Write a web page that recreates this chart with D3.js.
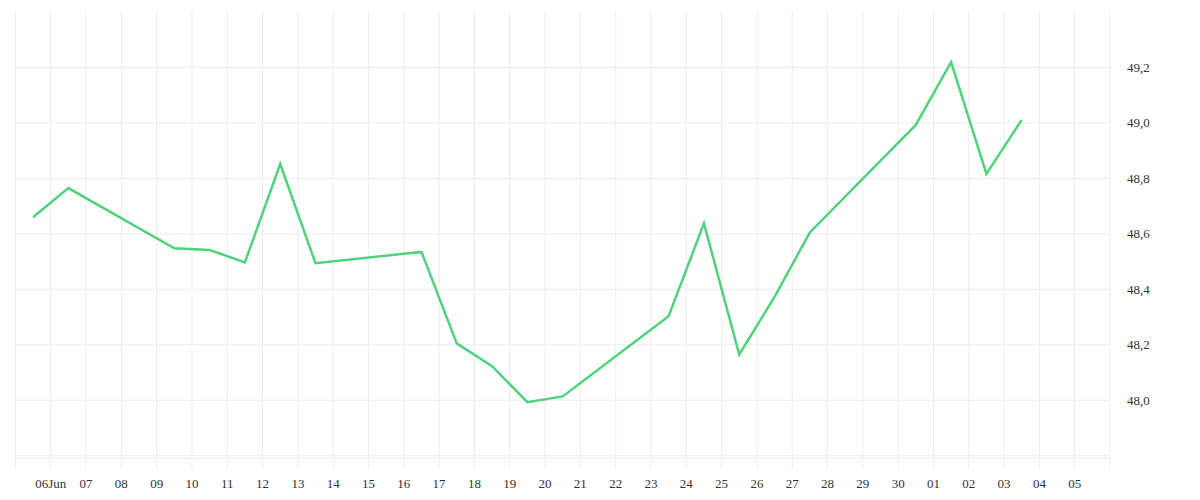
<!DOCTYPE html>
<html>
<head>
<meta charset="utf-8">
<script src="https://cdn.jsdelivr.net/npm/d3@7"></script>
<style>
  body { margin: 0; background: #fff; }
</style>
</head>
<body>
<div id="chart"></div>
<script>
// daily values (weekends missing)
const dates = ["2025-06-05", "2025-06-06", "2025-06-09", "2025-06-10", "2025-06-11", "2025-06-12",
  "2025-06-13", "2025-06-16", "2025-06-17", "2025-06-18", "2025-06-19", "2025-06-20",
  "2025-06-23", "2025-06-24", "2025-06-25", "2025-06-26", "2025-06-27", "2025-06-30",
  "2025-07-01", "2025-07-02", "2025-07-03"];
const values = [48.66, 48.765, 48.548, 48.542, 48.497, 48.852,
  48.494, 48.535, 48.205, 48.123, 47.993, 48.014,
  48.303, 48.638, 48.165, 48.373, 48.605, 48.993,
  49.219, 48.816, 49.011];

const xTickLabels = ["06Jun", "07", "08", "09", "10", "11", "12", "13", "14", "15", "16", "17", "18",
  "19", "20", "21", "22", "23", "24", "25", "26", "27", "28", "29", "30", "01", "02", "03", "04", "05"];
const yGridValues = [47.8, 48.0, 48.2, 48.4, 48.6, 48.8, 49.0, 49.2];
const yLabelValues = [48.0, 48.2, 48.4, 48.6, 48.8, 49.0, 49.2];

const width = 1200, height = 500;
const margins = {top: 12, right: 90, bottom: 41.5, left: 15.4};
const lineColor = "#4fd27b";
const gridColor = "#ececec";
const font = "Liberation Serif, serif";

const parse = d3.utcParse("%Y-%m-%d");
const data = dates.map((d, i) => ({date: parse(d), value: values[i]}));

const svg = d3.select("#chart")
  .append("svg")
    .attr("width", width)
    .attr("height", height);

/* scales */
const xScale = d3.scaleUtc()
  .domain([parse("2025-06-05"), parse("2025-07-06")])
  .range([margins.left, width - margins.right]);

const yScale = d3.scaleLinear()
  .domain([47.79, 49.40])
  .range([height - margins.bottom, margins.top]);

const comma = d3.formatLocale({decimal: ",", thousands: ".", grouping: [3], currency: ["", "€"]}).format(".1f");

/* vertical grid, one line per day, running a bit under the axis */
const dayLines = d3.utcDay.range(parse("2025-06-05"), d3.utcDay.offset(parse("2025-07-06"), 1));
svg.append("g")
  .selectAll("line")
  .data(dayLines)
  .join("line")
    .attr("x1", d => xScale(d))
    .attr("x2", d => xScale(d))
    .attr("y1", margins.top)
    .attr("y2", height - margins.bottom + 9.5)
    .style("stroke", gridColor)
    .style("stroke-width", 1);

/* horizontal grid */
svg.append("g")
  .selectAll("line")
  .data(yGridValues)
  .join("line")
    .attr("x1", margins.left)
    .attr("x2", width - margins.right)
    .attr("y1", d => yScale(d))
    .attr("y2", d => yScale(d))
    .style("stroke", gridColor)
    .style("stroke-width", 1);

// bottom base line
svg.append("line")
  .attr("x1", margins.left)
  .attr("x2", width - margins.right)
  .attr("y1", height - margins.bottom)
  .attr("y2", height - margins.bottom)
  .style("stroke", gridColor)
  .style("stroke-width", 1);

/* x labels */
const tickDates = d3.utcDay.range(parse("2025-06-06"), parse("2025-07-06"));
svg.append("g")
  .selectAll("text")
  .data(tickDates)
  .join("text")
    .attr("x", d => xScale(d))
    .attr("y", 488)
    .attr("text-anchor", "middle")
    .attr("font-family", font)
    .attr("font-size", 13)
    .attr("fill", "#333")
    .text((d, i) => xTickLabels[i]);

/* y labels on the right */
svg.append("g")
  .selectAll("text")
  .data(yLabelValues)
  .join("text")
    .attr("x", width - margins.right + 17)
    .attr("y", d => yScale(d))
    .attr("dy", "0.35em")
    .attr("font-family", font)
    .attr("font-size", 13)
    .attr("fill", "#333")
    .text(d => comma(d));

/* the line, each day drawn at noon */
const line = d3.line()
  .x(d => xScale(d3.utcHour.offset(d.date, 12)))
  .y(d => yScale(d.value));

svg.append("path")
  .datum(data)
  .attr("d", line)
  .style("fill", "none")
  .style("stroke", lineColor)
  .style("stroke-width", 2.5)
  .style("stroke-linejoin", "miter");
</script>
</body>
</html>
